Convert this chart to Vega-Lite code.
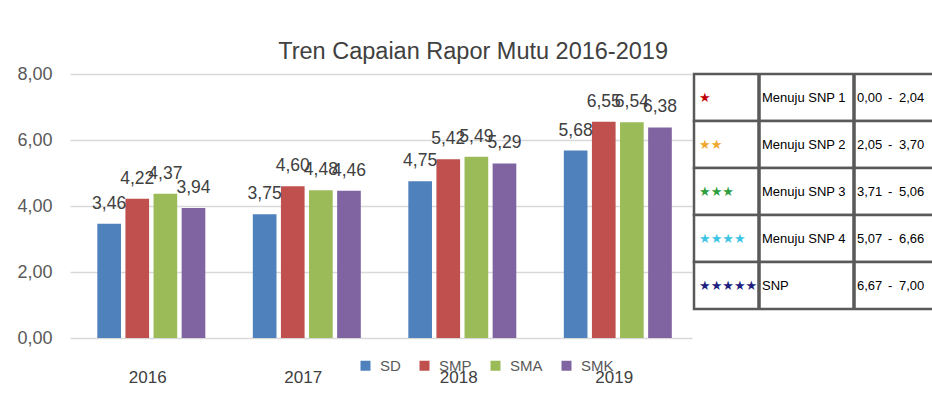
{
  "$schema": "https://vega.github.io/schema/vega-lite/v6.json",
  "background": "white",
  "padding": {"left": 16, "top": 39, "right": 0, "bottom": 0},
  "title": {"text": "Tren Capaian Rapor Mutu  2016-2019", "fontSize": 23.5, "font": "Liberation Sans", "fontWeight": "normal", "color": "#404040", "offset": 2, "anchor": "middle", "dx": -3},
  "config": {
    "locale": {"number": {"decimal": ",", "thousands": ".", "grouping": [3], "currency": ["", ""]}},
    "view": {"stroke": null},
    "font": "Liberation Sans"
  },
  "spacing": 0,
  "resolve": {"scale": {"color": "independent", "x": "independent", "y": "independent"}, "legend": {"color": "independent"}},
  "hconcat": [
    {
      "width": 622,
      "height": 264,
      "data": {"values": [
        {"year": "2016", "level": "SD", "value": 3.46},
        {"year": "2016", "level": "SMP", "value": 4.22},
        {"year": "2016", "level": "SMA", "value": 4.37},
        {"year": "2016", "level": "SMK", "value": 3.94},
        {"year": "2017", "level": "SD", "value": 3.75},
        {"year": "2017", "level": "SMP", "value": 4.60},
        {"year": "2017", "level": "SMA", "value": 4.48},
        {"year": "2017", "level": "SMK", "value": 4.46},
        {"year": "2018", "level": "SD", "value": 4.75},
        {"year": "2018", "level": "SMP", "value": 5.42},
        {"year": "2018", "level": "SMA", "value": 5.49},
        {"year": "2018", "level": "SMK", "value": 5.29},
        {"year": "2019", "level": "SD", "value": 5.68},
        {"year": "2019", "level": "SMP", "value": 6.55},
        {"year": "2019", "level": "SMA", "value": 6.54},
        {"year": "2019", "level": "SMK", "value": 6.38}
      ]},
      "encoding": {
        "x": {"field": "year", "type": "nominal", "scale": {"paddingInner": 0, "paddingOuter": 0},
          "axis": {"title": null, "labelAngle": 0, "domain": false, "ticks": false, "labelFontSize": 17, "labelColor": "#404040", "labelPadding": 31}},
        "xOffset": {"field": "level", "type": "nominal", "sort": ["SD", "SMP", "SMA", "SMK"], "scale": {"paddingInner": 0.158, "paddingOuter": 0.845, "align": 0.575}},
        "y": {"field": "value", "type": "quantitative", "scale": {"domain": [0, 8], "nice": false},
          "axis": {"title": null, "values": [0, 2, 4, 6, 8], "format": ".2f", "grid": true, "gridColor": "#D9D9D9", "gridWidth": 1.5, "domain": false, "ticks": false, "labelFontSize": 18, "labelColor": "#595959", "labelPadding": 18}}
      },
      "layer": [
        {
          "mark": {"type": "bar"},
          "encoding": {
            "color": {"field": "level", "type": "nominal",
              "scale": {"domain": ["SD", "SMP", "SMA", "SMK"], "range": ["#4F81BD", "#C0504D", "#9BBB59", "#8064A2"]},
              "legend": {"title": null, "orient": "none", "legendX": 288, "legendY": 284, "direction": "horizontal", "symbolType": "square", "symbolSize": 100, "symbolStrokeWidth": 0, "labelFontSize": 15, "labelColor": "#595959", "columnPadding": 16, "labelOffset": 7}}
          }
        },
        {
          "mark": {"type": "text", "dy": -15, "baseline": "alphabetic", "fontSize": 17.5, "color": "#404040"},
          "encoding": {"text": {"field": "value", "type": "quantitative", "format": ".2f"}}
        }
      ]
    },
    {
      "width": 240,
      "height": 235,
      "data": {"values": [
        {"rank": 1, "stars": "★", "name": "Menuju SNP 1", "lo": "0,00", "hi": "2,04"},
        {"rank": 2, "stars": "★★", "name": "Menuju SNP 2", "lo": "2,05", "hi": "3,70"},
        {"rank": 3, "stars": "★★★", "name": "Menuju SNP 3", "lo": "3,71", "hi": "5,06"},
        {"rank": 4, "stars": "★★★★", "name": "Menuju SNP 4", "lo": "5,07", "hi": "6,66"},
        {"rank": 5, "stars": "★★★★★", "name": "SNP", "lo": "6,67", "hi": "7,00"}
      ]},
      "layer": [
        {
          "mark": {"type": "rect", "fill": "white", "stroke": "#595959", "strokeWidth": 2.5},
          "encoding": {
            "y": {"field": "rank", "type": "ordinal", "scale": {"paddingInner": 0, "paddingOuter": 0}, "axis": null},
            "x": {"datum": 0, "type": "quantitative", "scale": {"domain": [0, 240], "nice": false}, "axis": null},
            "x2": {"datum": 240}
          }
        },
        {
          "mark": {"type": "rule", "color": "#595959", "strokeWidth": 2.5},
          "encoding": {"x": {"datum": 65, "type": "quantitative", "scale": {"domain": [0, 240], "nice": false}, "axis": null}}
        },
        {
          "mark": {"type": "rule", "color": "#595959", "strokeWidth": 2.5},
          "encoding": {"x": {"datum": 160, "type": "quantitative", "scale": {"domain": [0, 240], "nice": false}, "axis": null}}
        },
        {
          "mark": {"type": "text", "align": "left", "baseline": "middle", "font": "DejaVu Sans", "fontSize": 13},
          "encoding": {
            "y": {"field": "rank", "type": "ordinal", "axis": null},
            "x": {"datum": 5, "type": "quantitative", "axis": null},
            "text": {"field": "stars"},
            "color": {"field": "rank", "type": "ordinal", "scale": {"domain": [1, 2, 3, 4, 5], "range": ["#C00000", "#F0A830", "#2E9E3E", "#3CC4E4", "#1F1F80"]}, "legend": null}
          }
        },
        {
          "mark": {"type": "text", "align": "left", "baseline": "middle", "fontSize": 13, "color": "black"},
          "encoding": {
            "y": {"field": "rank", "type": "ordinal", "axis": null},
            "x": {"datum": 68, "type": "quantitative", "axis": null},
            "text": {"field": "name"}
          }
        },
        {
          "mark": {"type": "text", "align": "left", "baseline": "middle", "fontSize": 13, "color": "black"},
          "encoding": {
            "y": {"field": "rank", "type": "ordinal", "axis": null},
            "x": {"datum": 163, "type": "quantitative", "axis": null},
            "text": {"field": "lo"}
          }
        },
        {
          "mark": {"type": "text", "align": "left", "baseline": "middle", "fontSize": 13, "color": "black"},
          "encoding": {
            "y": {"field": "rank", "type": "ordinal", "axis": null},
            "x": {"datum": 194, "type": "quantitative", "axis": null},
            "text": {"value": "-"}
          }
        },
        {
          "mark": {"type": "text", "align": "left", "baseline": "middle", "fontSize": 13, "color": "black"},
          "encoding": {
            "y": {"field": "rank", "type": "ordinal", "axis": null},
            "x": {"datum": 205, "type": "quantitative", "axis": null},
            "text": {"field": "hi"}
          }
        }
      ]
    }
  ]
}
